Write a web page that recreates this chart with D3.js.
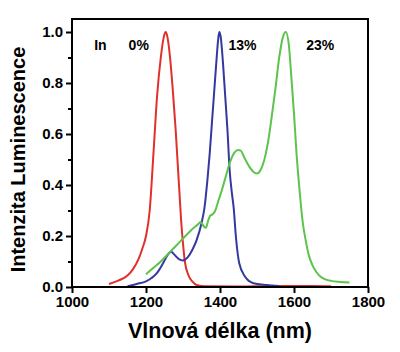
<!DOCTYPE html>
<html>
<head>
<meta charset="utf-8">
<script src="https://cdn.jsdelivr.net/npm/d3@7"></script>
<style>
  html, body { margin: 0; padding: 0; background: #fff; }
  #chart { width: 400px; height: 352px; }
  text { font-family: "Liberation Sans", Arial, sans-serif; font-weight: bold; }
</style>
</head>
<body>
<div id="chart"></div>
<script>
// Vlnová délka (nm) / intenzita
const redNm  = [1100, 1125, 1150, 1165, 1180, 1190, 1200, 1210, 1220, 1230, 1240, 1248, 1253, 1258, 1265, 1272, 1280, 1285, 1290, 1295, 1300, 1305, 1315, 1325, 1337, 1360, 1450, 1550, 1650, 1700];
const redVal = [0.012, 0.025, 0.045, 0.07, 0.11, 0.15, 0.2, 0.3, 0.52, 0.75, 0.9, 0.98, 1.0, 0.98, 0.9, 0.78, 0.62, 0.5, 0.38, 0.26, 0.17, 0.1, 0.045, 0.022, 0.008, 0.003, 0.002, 0.004, 0.004, 0.003];

const blueNm  = [1150, 1175, 1200, 1215, 1230, 1245, 1258, 1268, 1278, 1290, 1300, 1312, 1325, 1337, 1350, 1358, 1366, 1372, 1378, 1384, 1390, 1395, 1398, 1402, 1408, 1414, 1420, 1426, 1432, 1437, 1443, 1452, 1468, 1490, 1526, 1560];
const blueVal = [0.003, 0.012, 0.022, 0.035, 0.055, 0.09, 0.125, 0.138, 0.125, 0.108, 0.104, 0.115, 0.145, 0.185, 0.25, 0.31, 0.42, 0.52, 0.64, 0.76, 0.88, 0.97, 1.0, 0.98, 0.88, 0.75, 0.62, 0.46, 0.37, 0.31, 0.197, 0.093, 0.04, 0.015, 0.008, 0.004];

const greenNm  = [1200, 1220, 1240, 1260, 1280, 1300, 1320, 1340, 1348, 1355, 1362, 1368, 1373, 1380, 1386, 1395, 1405, 1415, 1427, 1438, 1448, 1456, 1465, 1480, 1490, 1500, 1510, 1520, 1530, 1540, 1550, 1560, 1570, 1578, 1586, 1594, 1600, 1607, 1615, 1623, 1632, 1640, 1650, 1660, 1672, 1685, 1700, 1725, 1750];
const greenVal = [0.05, 0.075, 0.1, 0.13, 0.16, 0.19, 0.22, 0.245, 0.255, 0.24, 0.232, 0.26, 0.278, 0.285, 0.296, 0.335, 0.38, 0.43, 0.49, 0.525, 0.537, 0.535, 0.51, 0.47, 0.452, 0.445, 0.46, 0.5, 0.57, 0.67, 0.78, 0.9, 0.98, 1.0, 0.95, 0.8, 0.68, 0.52, 0.38, 0.26, 0.18, 0.125, 0.085, 0.06, 0.04, 0.03, 0.024, 0.02, 0.018];

const xTicks = [1000, 1200, 1400, 1600, 1800];
const yTicks = [0, 0.2, 0.4, 0.6, 0.8, 1.0];
const yMinorTicks = [0.1, 0.3, 0.5, 0.7, 0.9];

const labels = [
  { text: "In", nm: 1060 },
  { text: "0%", nm: 1153 },
  { text: "13%", nm: 1423 },
  { text: "23%", nm: 1633 }
];

const series = [
  { nm: redNm, val: redVal, color: "#e0302b" },
  { nm: blueNm, val: blueVal, color: "#33399e" },
  { nm: greenNm, val: greenVal, color: "#5cc44a" }
];

const margin = { top: 19, right: 32, bottom: 65, left: 72 };
const W = 400, H = 352;
const width = W - margin.left - margin.right;
const height = H - margin.top - margin.bottom;

const svg = d3.select("#chart").append("svg")
  .attr("width", W)
  .attr("height", H);

const g = svg.append("g")
  .attr("transform", `translate(${margin.left},${margin.top})`);

const x = d3.scaleLinear().domain([1000, 1800]).range([0, width]);
const y = d3.scaleLinear().domain([0, 1.051]).range([height, 0]);

// čáry
const line = d3.line()
  .x(d => x(d[0]))
  .y(d => y(d[1]))
  .curve(d3.curveMonotoneX);

series.forEach(s => {
  g.append("path")
    .datum(s.nm.map((n, i) => [n, s.val[i]]))
    .attr("d", line)
    .attr("fill", "none")
    .attr("stroke", s.color)
    .attr("stroke-width", 2);
});

// rámeček
g.append("rect")
  .attr("width", width)
  .attr("height", height)
  .attr("fill", "none")
  .attr("stroke", "#000")
  .attr("stroke-width", 2);

// osa X
const xAxis = g.append("g")
  .attr("transform", `translate(0,${height})`)
  .call(d3.axisBottom(x).tickValues(xTicks).tickSize(6).tickPadding(3).tickFormat(d3.format("d")));
xAxis.select(".domain").remove();
xAxis.selectAll("line").attr("stroke-width", 2);
xAxis.selectAll("text").attr("font-size", "15px").attr("fill", "#000")
  .style("font-family", "Liberation Sans, Arial, sans-serif").style("font-weight", "bold");

// osa Y
const yAxis = g.append("g")
  .call(d3.axisLeft(y).tickValues(yTicks).tickSize(6).tickPadding(3).tickFormat(d3.format(".1f")));
yAxis.select(".domain").remove();
yAxis.selectAll("line").attr("stroke-width", 2);
yAxis.selectAll("text").attr("font-size", "15px").attr("fill", "#000")
  .style("font-family", "Liberation Sans, Arial, sans-serif").style("font-weight", "bold");

const yMinor = g.append("g")
  .call(d3.axisLeft(y).tickValues(yMinorTicks).tickSize(4).tickFormat(""));
yMinor.select(".domain").remove();
yMinor.selectAll("line").attr("stroke-width", 2);

// popisky křivek
g.selectAll(".lbl")
  .data(labels)
  .enter()
  .append("text")
  .attr("class", "lbl")
  .attr("x", d => x(d.nm))
  .attr("y", y(0.93))
  .attr("font-size", "14px")
  .attr("fill", "#000")
  .text(d => d.text);

// názvy os
svg.append("text")
  .attr("x", margin.left + width / 2)
  .attr("y", 338)
  .attr("text-anchor", "middle")
  .attr("font-size", "21.5px")
  .attr("fill", "#000")
  .text("Vlnová délka (nm)");

svg.append("text")
  .attr("transform", `translate(25,${margin.top + y(0.5) + 0})rotate(-90)`)
  .attr("text-anchor", "middle")
  .attr("font-size", "20px")
  .attr("fill", "#000")
  .text("Intenzita Luminescence");
</script>
</body>
</html>
